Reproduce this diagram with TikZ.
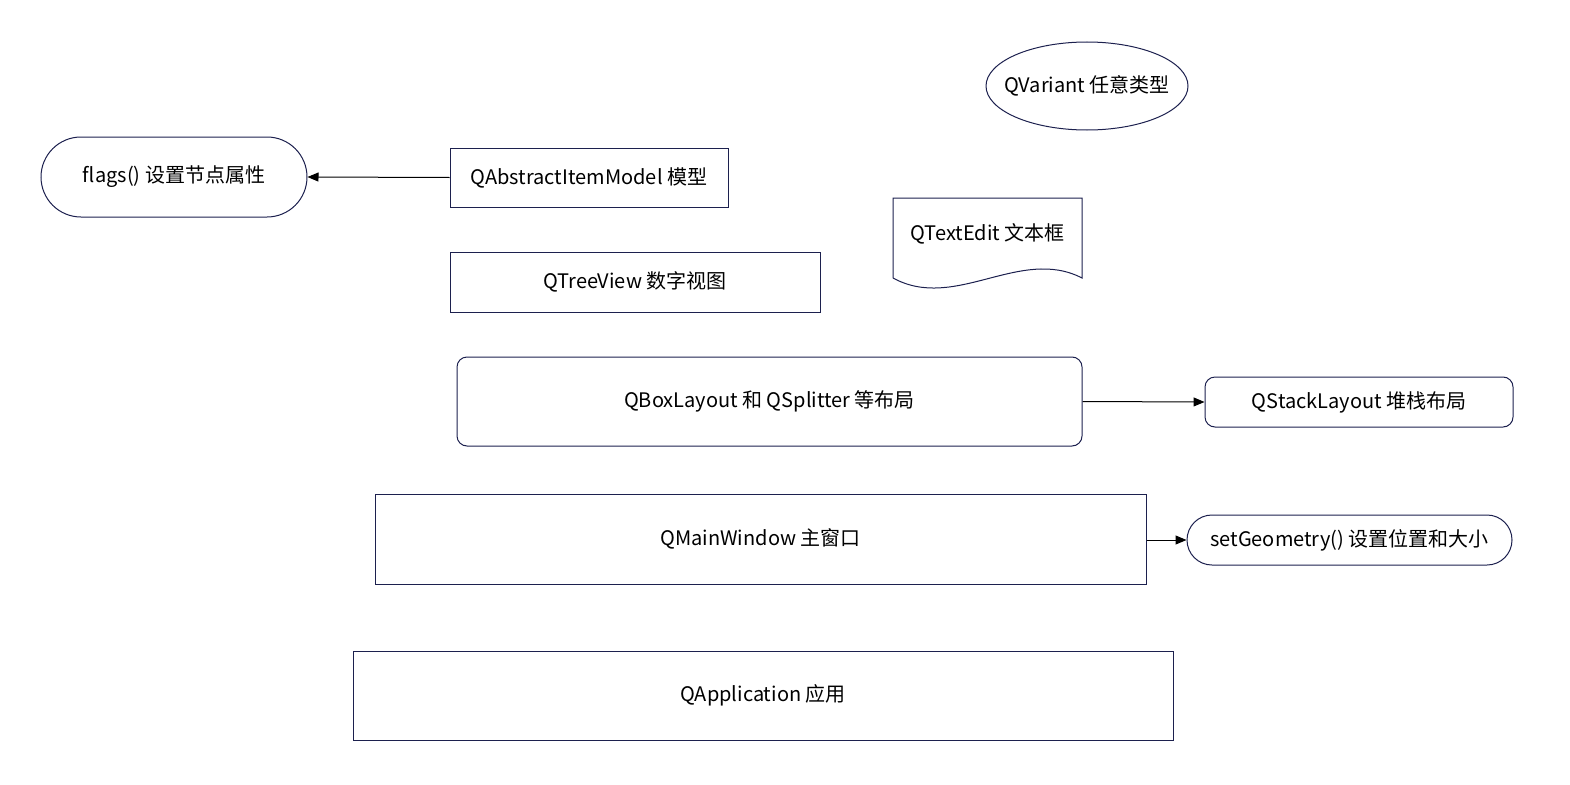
\documentclass[tikz,border=0pt]{standalone}
\usepackage{fontspec}
\setmainfont{Noto Sans CJK SC}
\usetikzlibrary{arrows.meta,positioning,shapes.geometric,shapes.misc}

\definecolor{navyline}{RGB}{28,32,78}
\tikzset{
  qbox/.style={draw=navyline,line width=1pt,inner sep=0pt,rectangle},
  qround/.style={qbox,rounded corners=10pt},
  qpill/.style={draw=navyline,line width=1pt,inner sep=0pt,rounded rectangle},
  qoval/.style={draw=navyline,line width=1pt,inner sep=0pt,inner xsep=-12pt,ellipse},
  qarrow/.style={line width=1pt,-{Triangle[length=11pt,width=9pt]}}
}

\begin{document}
\begin{tikzpicture}[x=1pt,y=-1pt,font=\fontsize{20}{24}\selectfont]
  \useasboundingbox (0,0) rectangle (1570,784);

  \node[qoval,minimum width=202pt,minimum height=88pt] (variant) at (1087,86) {QVariant 任意类型};

  \node[qpill,minimum width=266pt,minimum height=80pt] (flags) at (174,177) {flags() 设置节点属性};
  \node[qbox,minimum width=278pt,minimum height=59pt] (model) at (589,177.5) {QAbstractItemModel 模型};
  \draw[qarrow] (model.west) -- (flags.east);

  \draw[navyline,line width=1pt] (893,278) -- (893,198) -- (1082,198) -- (1082,278)
    .. controls (1020,246) and (955,312) .. (893,278);
  \node (textedit) at (987.5,234) {QTextEdit 文本框};

  \node[qbox,minimum width=370pt,minimum height=60pt] (tree) at (635,282) {QTreeView 数字视图};

  \node[qround,minimum width=625pt,minimum height=89pt] (boxlay) at (769.5,401.5) {QBoxLayout 和 QSplitter 等布局};
  \node[qround,minimum width=308pt,minimum height=50pt] (stack) at (1359,402) {QStackLayout 堆栈布局};
  \draw[qarrow] (boxlay.east) -- (stack.west);

  \node[qbox,minimum width=771pt,minimum height=90pt] (mainwin) at (760.5,539) {QMainWindow 主窗口};
  \node[qpill,minimum width=325pt,minimum height=50pt] (geom) at (1349.5,540) {setGeometry() 设置位置和大小};
  \draw[qarrow] (mainwin.east |- geom.west) -- (geom.west);

  \node[qbox,minimum width=820pt,minimum height=89pt] (app) at (763,695.5) {QApplication 应用};
\end{tikzpicture}
\end{document}
